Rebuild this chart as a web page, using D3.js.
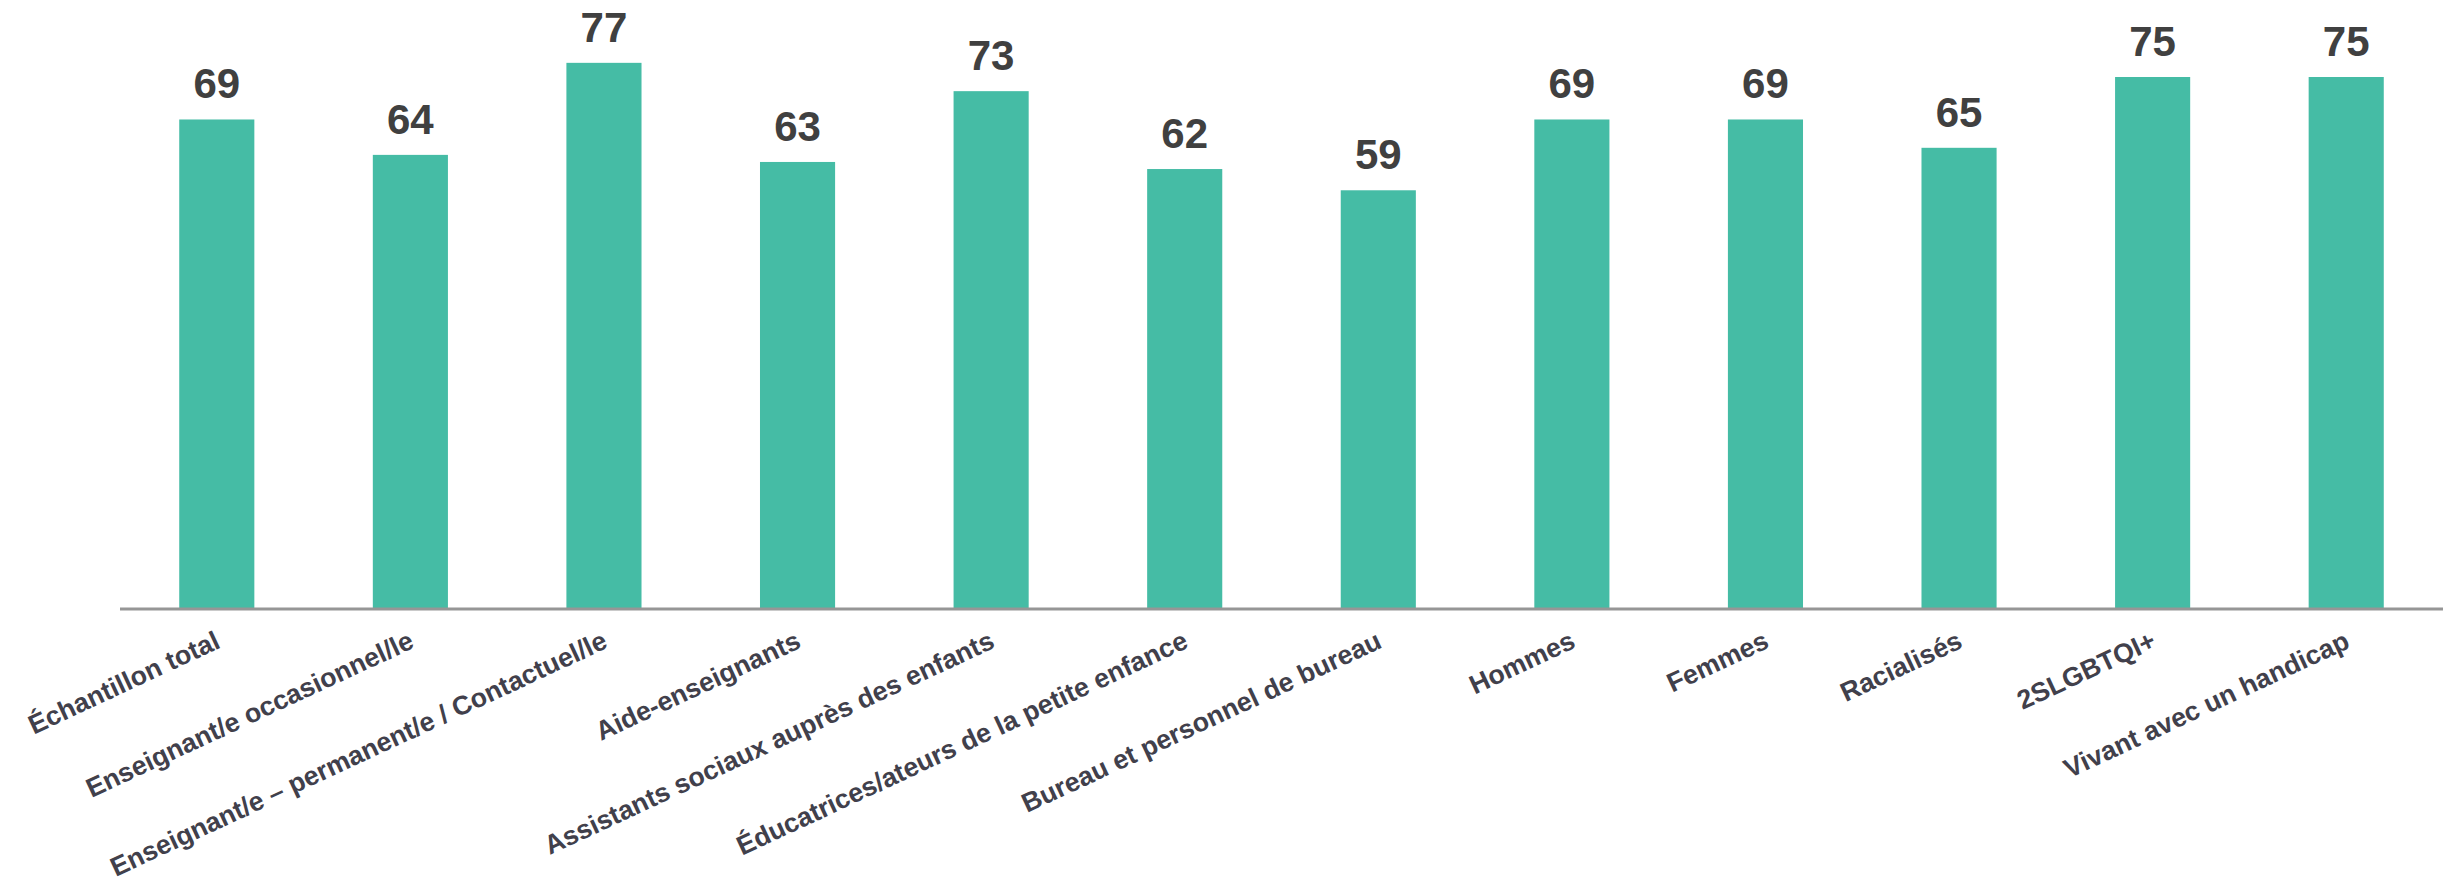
<!DOCTYPE html>
<html lang="fr">
<head>
<meta charset="utf-8">
<script src="https://cdn.jsdelivr.net/npm/d3@7"></script>
<style>
  html, body { margin: 0; padding: 0; background: #ffffff; }
  svg { display: block; }
</style>
</head>
<body>
<svg id="chart" width="2458" height="886"></svg>
<script>
// Groupes de répondants et pourcentages affichés
const categories = [
  "Échantillon total",
  "Enseignant/e occasionnel/le",
  "Enseignant/e – permanent/e / Contactuel/le",
  "Aide-enseignants",
  "Assistants sociaux auprès des enfants",
  "Éducatrices/ateurs de la petite enfance",
  "Bureau et personnel de bureau",
  "Hommes",
  "Femmes",
  "Racialisés",
  "2SLGBTQI+",
  "Vivant avec un handicap"
];
const values = [69, 64, 77, 63, 73, 62, 59, 69, 69, 65, 75, 75];

const svg = d3.select("#chart");

const axisLeft = 120, axisRight = 2443, baseY = 608;

const x = d3.scaleBand()
  .domain(categories)
  .range([axisLeft, axisRight])
  .paddingInner(0.612)
  .paddingOuter(0.306);

const y = d3.scaleLinear()
  .domain([0, 80])
  .range([baseY, baseY - 80 * 7.08]);

const data = categories.map((c, i) => ({ cat: c, val: values[i] }));

// Barres
svg.append("g")
  .selectAll("rect")
  .data(data)
  .join("rect")
  .attr("x", d => x(d.cat))
  .attr("y", d => y(d.val))
  .attr("width", x.bandwidth())
  .attr("height", d => y(0) - y(d.val))
  .attr("fill", "#45bca5");

// Étiquettes de valeur
svg.append("g")
  .selectAll("text")
  .data(data)
  .join("text")
  .attr("x", d => x(d.cat) + x.bandwidth() / 2)
  .attr("y", d => y(d.val) - 21)
  .attr("text-anchor", "middle")
  .attr("font-family", "Liberation Sans, Arial, sans-serif")
  .attr("font-weight", "bold")
  .attr("font-size", 42)
  .attr("fill", "#404040")
  .text(d => d.val);

// Axe horizontal
const xAxis = d3.axisBottom(x).tickSize(0).tickFormat("");
const axisG = svg.append("g")
  .attr("transform", `translate(0,${baseY + 1})`)
  .call(xAxis);
axisG.select(".domain")
  .attr("d", `M${axisLeft},0H${axisRight}`)
  .attr("stroke", "#969696")
  .attr("stroke-width", 3);

// Étiquettes de catégorie inclinées
svg.append("g")
  .selectAll("text")
  .data(categories)
  .join("text")
  .attr("transform", d => `translate(${x(d) + x.bandwidth() / 2 + 5},${baseY + 39}) rotate(-25)`)
  .attr("text-anchor", "end")
  .attr("font-family", "Liberation Sans, Arial, sans-serif")
  .attr("font-weight", "bold")
  .attr("font-size", 26.7)
  .attr("fill", "#41404b")
  .text(d => d);
</script>
</body>
</html>
